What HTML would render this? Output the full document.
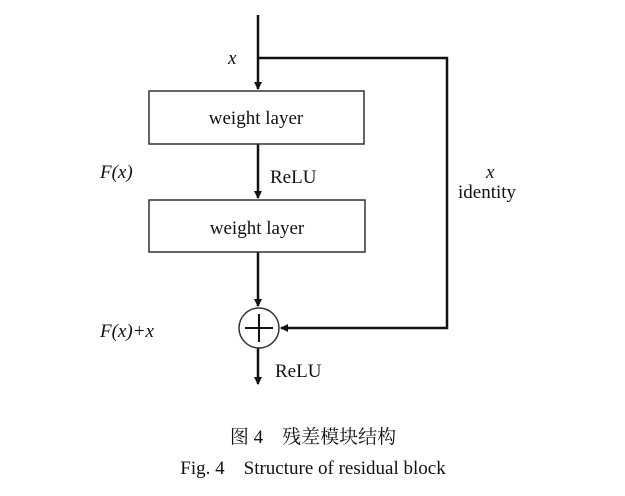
<!DOCTYPE html>
<html><head><meta charset="utf-8"><style>
body{margin:0;background:#fff;}
svg text{font-family:"Liberation Serif","Noto Serif CJK SC",serif;fill:#111;}
</style></head><body>
<svg width="625" height="491" viewBox="0 0 625 491" xmlns="http://www.w3.org/2000/svg">
<defs><marker id="a" markerWidth="8" markerHeight="8" refX="7" refY="4" orient="auto" markerUnits="userSpaceOnUse"><path d="M0,0 L8,4 L0,8 Z" fill="#111"/></marker></defs>
<g stroke="#111" stroke-width="2.5" fill="none">
<line x1="258" y1="15" x2="258" y2="89" marker-end="url(#a)"/>
<polyline points="258,58 447,58 447,328 281,328" marker-end="url(#a)"/>
<line x1="258" y1="144" x2="258" y2="198" marker-end="url(#a)"/>
<line x1="258" y1="252" x2="258" y2="306" marker-end="url(#a)"/>
<line x1="258" y1="348" x2="258" y2="384" marker-end="url(#a)"/>
</g>
<g stroke="#333" stroke-width="1.5" fill="#fff">
<rect x="149" y="91" width="215" height="53"/>
<rect x="149" y="200" width="216" height="52"/>
<circle cx="259" cy="328" r="20"/>
</g>
<g stroke="#111" stroke-width="2"><line x1="245" y1="328" x2="273" y2="328"/><line x1="259" y1="314" x2="259" y2="342"/></g>
<g font-size="19">
<text x="256" y="124" text-anchor="middle">weight layer</text>
<text x="257" y="234" text-anchor="middle">weight layer</text>
<text x="270" y="183">ReLU</text>
<text x="275" y="377">ReLU</text>
<text x="458" y="198">identity</text>
</g>
<g font-size="19" font-style="italic">
<text x="228" y="64">x</text>
<text x="100" y="178">F(x)</text>
<text x="100" y="337">F(x)+x</text>
<text x="486" y="178">x</text>
</g>
<text x="313" y="443" font-size="19" text-anchor="middle">图 4　残差模块结构</text>
<text x="313" y="474" font-size="19" text-anchor="middle">Fig. 4　Structure of residual block</text>
</svg>
</body></html>
